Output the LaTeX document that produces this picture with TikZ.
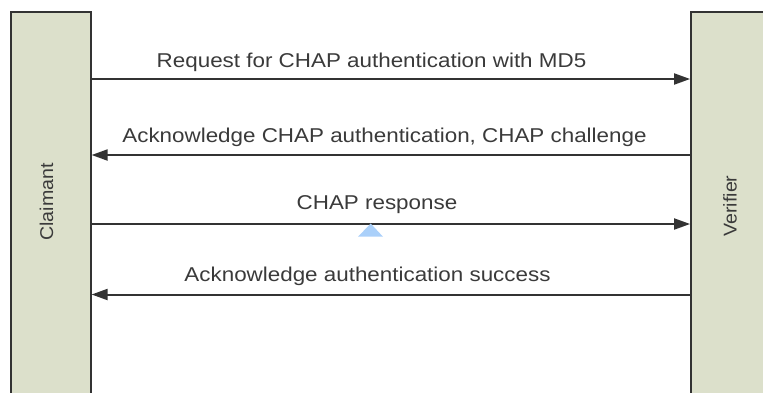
\documentclass[tikz,border=0pt]{standalone}
\usepackage{fontspec}
\setmainfont{Liberation Sans}
\usepackage{tikz}
\usetikzlibrary{arrows.meta}

\definecolor{barfill}{RGB}{220,224,203}
\definecolor{barline}{RGB}{51,51,51}
\definecolor{txtgray}{RGB}{58,58,58}
\definecolor{markblue}{RGB}{170,208,250}

\begin{document}
\begin{tikzpicture}
            [x=1pt,y=-1pt,
             bar/.style={draw=barline,line width=1.8pt,fill=barfill,minimum width=80pt,inner sep=0pt},
             barlabel/.style={text=txtgray,rotate=90,xscale=1.06,font=\fontsize{18.5}{22}\selectfont},
             msglabel/.style={text=txtgray,anchor=base,xscale=1.12,font=\fontsize{20}{24}\selectfont},
             msg/.style={draw=barline,line width=2pt,-{Triangle[length=16pt,width=11pt]}}]
            \useasboundingbox (0,0) rectangle (763,392);
            \node[bar,minimum height=390pt] (claimant) at (50.7,206.9) {};
            \node[bar,minimum height=390pt,minimum width=89pt] (verifier) at (735.5,206.9) {};
            \node[barlabel] (claimantlabel) at (46.5,202) {Claimant};
            \node[barlabel] (verifierlabel) at (730,206) {Verifier};

            % messages
            \draw[msg] (claimant.east |- 0,79) -- (verifier.west |- 0,79);
            \draw[msg] (verifier.west |- 0,155) -- (claimant.east |- 0,155);
            \draw[msg] (claimant.east |- 0,224) -- (verifier.west |- 0,224);
            \draw[msg] (verifier.west |- 0,294.5) -- (claimant.east |- 0,294.5);
            \node[msglabel] (m1) at (371.5,67) {Request for CHAP authentication with MD5};
            \node[msglabel] (m2) at (384.5,142) {Acknowledge CHAP authentication, CHAP challenge};
            \node[msglabel] (m3) at (377,209) {CHAP response};
            \node[msglabel] (m4) at (367.5,281) {Acknowledge authentication success};

            % marker
            \fill[markblue] (370.7,223.5) -- (358,236.7) -- (383,236.7) -- cycle;
        \end{tikzpicture}
\end{document}
